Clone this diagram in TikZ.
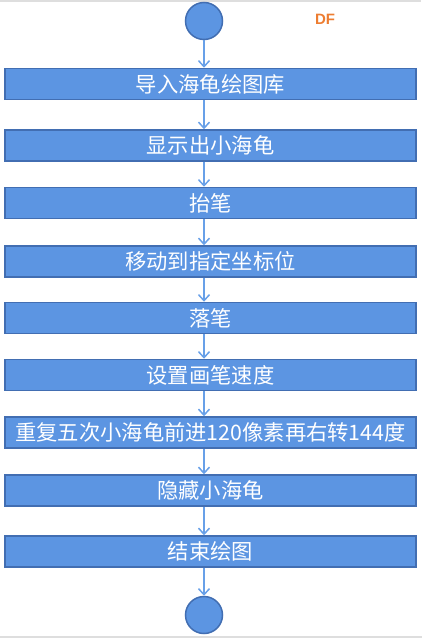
\documentclass[tikz,border=0pt]{standalone}
\usepackage{fontspec}
\setsansfont{Liberation Sans}
\newfontfamily\cjk{Noto Sans CJK SC}
\usetikzlibrary{arrows.meta}
\definecolor{boxfill}{RGB}{92,149,226}
\definecolor{boxline}{RGB}{66,110,178}
\definecolor{arrowline}{RGB}{104,160,232}
\definecolor{markorange}{RGB}{237,125,49}
\begin{document}
\begin{tikzpicture}[x=1bp,y=-1bp,
				stepbox/.style={rectangle,draw=boxline,fill=boxfill,line width=1.5bp,
					minimum width=411bp,minimum height=31bp,inner sep=0pt,text=white,
					font=\cjk\fontsize{21.3bp}{24bp}\selectfont},
				terminal/.style={circle,draw=boxline,fill=boxfill,line width=1.5bp,
					minimum size=37bp,inner sep=0pt},
				flow/.style={draw=arrowline,line width=1.5bp,
					-{Straight Barb[length=6bp,width=11bp,line width=1.5bp]}}]
\useasboundingbox (0,0) rectangle (422,638);
\draw[black!13,line width=2bp] (0,1) -- (421,1);
\draw[black!13,line width=2bp] (0,637) -- (422,637);
\node[terminal] (start) at (204,21) {};
\node[font=\sffamily\bfseries\fontsize{15bp}{18bp}\selectfont,text=markorange] (mark) at (325,19.5) {DF};
\node[stepbox] (import) at (210.5,84) {导入海龟绘图库};
\node[stepbox] (show) at (210.5,145.5) {显示出小海龟};
\node[stepbox] (penup) at (210.5,203) {抬笔};
\node[stepbox] (move) at (210.5,261.5) {移动到指定坐标位};
\node[stepbox] (pendown) at (210.5,318) {落笔};
\node[stepbox] (speed) at (210.5,375) {设置画笔速度};
\node[stepbox] (repeat) at (210.5,432.5) {重复五次小海龟前进120像素再右转144度};
\node[stepbox] (hide) at (210.5,490.5) {隐藏小海龟};
\node[stepbox] (finish) at (210.5,551.5) {结束绘图};
\node[terminal] (stop) at (204,615) {};
\draw[flow] (start) -- (import.north -| start);
\draw[flow] (import.south -| start) -- (show.north -| start);
\draw[flow] (show.south -| start) -- (penup.north -| start);
\draw[flow] (penup.south -| start) -- (move.north -| start);
\draw[flow] (move.south -| start) -- (pendown.north -| start);
\draw[flow] (pendown.south -| start) -- (speed.north -| start);
\draw[flow] (speed.south -| start) -- (repeat.north -| start);
\draw[flow] (repeat.south -| start) -- (hide.north -| start);
\draw[flow] (hide.south -| start) -- (finish.north -| start);
\draw[flow] (finish.south -| start) -- (stop);
\end{tikzpicture}
\end{document}
